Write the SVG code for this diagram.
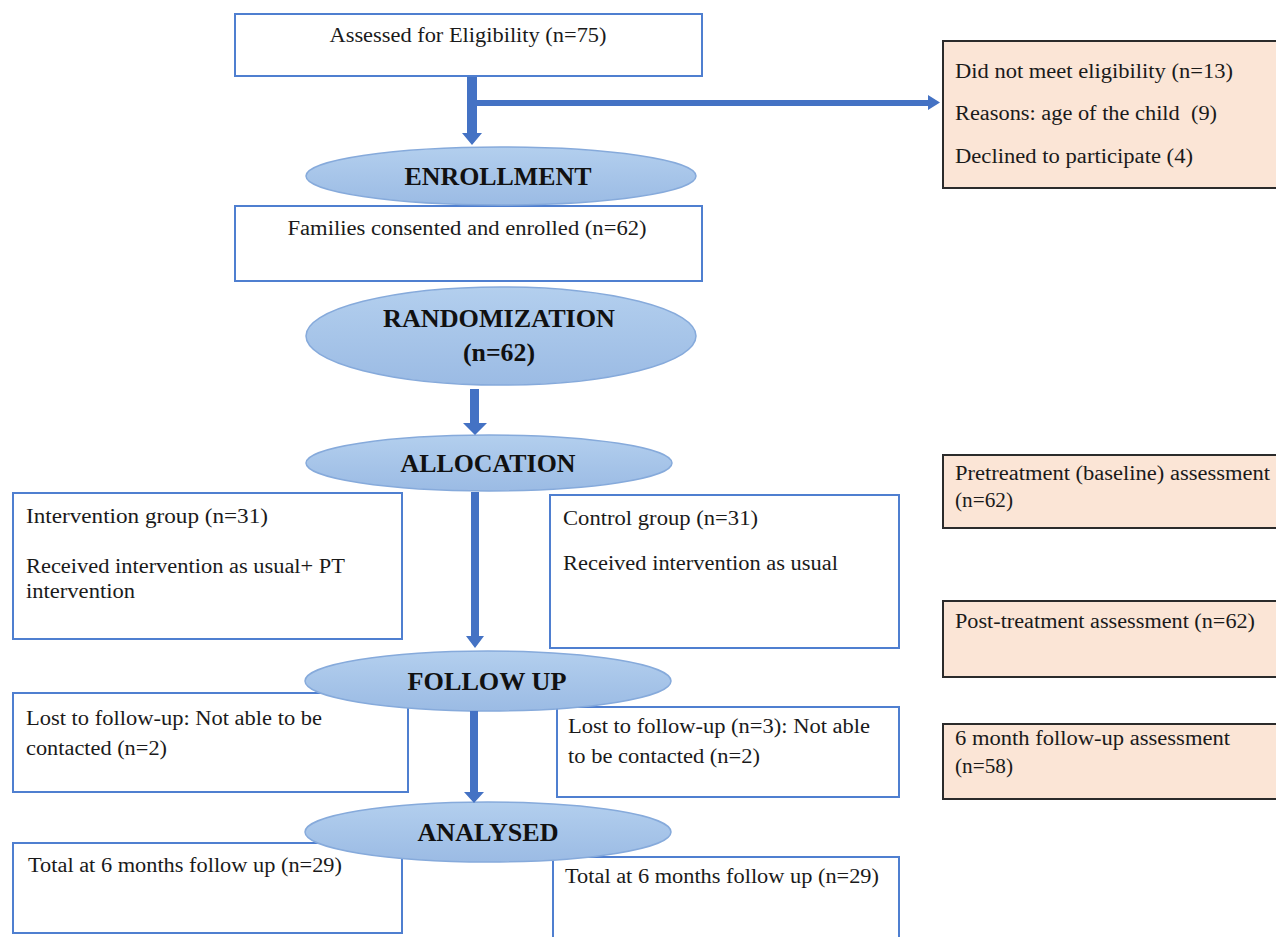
<svg xmlns="http://www.w3.org/2000/svg" width="1276" height="937" viewBox="0 0 1276 937">
<defs>
<linearGradient id="eg" x1="0" y1="0" x2="0" y2="1">
<stop offset="0" stop-color="#b3cfee"/>
<stop offset="1" stop-color="#9bbbe4"/>
</linearGradient>
<style>
.box{fill:#ffffff;stroke:#4f7fd0;stroke-width:2}
.pbox{fill:#fbe5d6;stroke:#2b2b2b;stroke-width:2}
.ell{fill:url(#eg);stroke:#86aadb;stroke-width:1.5}
.t{font-family:"Liberation Serif","Times New Roman",serif;font-size:20px;fill:#1a1a1a}
.h{font-family:"Liberation Serif","Times New Roman",serif;font-size:26px;font-weight:bold;fill:#111;text-anchor:middle}
.arr{fill:#4472c4}
</style>
</defs>
<rect width="1276" height="937" fill="#ffffff"/>

<g id="assessed">
<rect class="box" x="235" y="14" width="467" height="62"/>
<text class="t" x="468" y="42" text-anchor="middle" textLength="277" lengthAdjust="spacingAndGlyphs">Assessed for Eligibility (n=75)</text>
</g>

<g id="excluded">
<rect class="pbox" x="943" y="41" width="345" height="147"/>
<text class="t" x="955" y="78" textLength="278" lengthAdjust="spacingAndGlyphs">Did not meet eligibility (n=13)</text>
<text class="t" x="955" y="120" textLength="262" lengthAdjust="spacingAndGlyphs" xml:space="preserve">Reasons: age of the child  (9)</text>
<text class="t" x="955" y="163" textLength="238" lengthAdjust="spacingAndGlyphs">Declined to participate (4)</text>
</g>

<g id="families">
<rect class="box" x="235" y="206" width="467" height="75"/>
<text class="t" x="467" y="235" text-anchor="middle" textLength="359" lengthAdjust="spacingAndGlyphs">Families consented and enrolled (n=62)</text>
</g>

<g id="intervention">
<rect class="box" x="13" y="493" width="389" height="146"/>
<text class="t" x="26" y="523" textLength="242" lengthAdjust="spacingAndGlyphs">Intervention group (n=31)</text>
<text class="t" x="26" y="573" textLength="319" lengthAdjust="spacingAndGlyphs">Received intervention as usual+ PT</text>
<text class="t" x="26" y="598" textLength="109" lengthAdjust="spacingAndGlyphs">intervention</text>
</g>

<g id="control">
<rect class="box" x="550" y="495" width="349" height="153"/>
<text class="t" x="563" y="525" textLength="195" lengthAdjust="spacingAndGlyphs">Control group (n=31)</text>
<text class="t" x="563" y="570" textLength="275" lengthAdjust="spacingAndGlyphs">Received intervention as usual</text>
</g>

<g id="pretreatment">
<rect class="pbox" x="943" y="455" width="345" height="73"/>
<text class="t" x="955" y="480" textLength="315" lengthAdjust="spacingAndGlyphs">Pretreatment (baseline) assessment</text>
<text class="t" x="955" y="507" textLength="58" lengthAdjust="spacingAndGlyphs">(n=62)</text>
</g>

<g id="posttreatment">
<rect class="pbox" x="943" y="601" width="345" height="76"/>
<text class="t" x="955" y="628" textLength="300" lengthAdjust="spacingAndGlyphs">Post-treatment assessment (n=62)</text>
</g>

<g id="sixmonth">
<rect class="pbox" x="943" y="724" width="345" height="75"/>
<text class="t" x="955" y="745" textLength="275" lengthAdjust="spacingAndGlyphs">6 month follow-up assessment</text>
<text class="t" x="955" y="773" textLength="58" lengthAdjust="spacingAndGlyphs">(n=58)</text>
</g>

<g id="lost-left">
<rect class="box" x="13" y="693" width="395" height="99"/>
<text class="t" x="26" y="725" textLength="296" lengthAdjust="spacingAndGlyphs">Lost to follow-up: Not able to be</text>
<text class="t" x="26" y="755" textLength="141" lengthAdjust="spacingAndGlyphs">contacted (n=2)</text>
</g>

<g id="lost-right">
<rect class="box" x="557" y="707" width="342" height="90"/>
<text class="t" x="568" y="733" textLength="302" lengthAdjust="spacingAndGlyphs">Lost to follow-up (n=3): Not able</text>
<text class="t" x="568" y="763" textLength="192" lengthAdjust="spacingAndGlyphs">to be contacted (n=2)</text>
</g>

<g id="total-left">
<rect class="box" x="13" y="843" width="389" height="90"/>
<text class="t" x="28" y="872" textLength="314" lengthAdjust="spacingAndGlyphs">Total at 6 months follow up (n=29)</text>
</g>

<g id="total-right">
<rect class="box" x="553" y="857" width="346" height="90"/>
<text class="t" x="565" y="883" textLength="314" lengthAdjust="spacingAndGlyphs">Total at 6 months follow up (n=29)</text>
</g>

<g id="enrollment">
<ellipse class="ell" cx="501" cy="176" rx="195" ry="29"/>
<text class="h" x="498" y="185" textLength="187" lengthAdjust="spacingAndGlyphs">ENROLLMENT</text>
</g>

<g id="randomization">
<ellipse class="ell" cx="501" cy="336" rx="195" ry="49"/>
<text class="h" x="499" y="327" textLength="232" lengthAdjust="spacingAndGlyphs">RANDOMIZATION</text>
<text class="h" x="499" y="361" textLength="72" lengthAdjust="spacingAndGlyphs">(n=62)</text>
</g>

<g id="allocation">
<ellipse class="ell" cx="489" cy="463" rx="183" ry="28"/>
<text class="h" x="488" y="472" textLength="175" lengthAdjust="spacingAndGlyphs">ALLOCATION</text>
</g>

<g id="followup">
<ellipse class="ell" cx="488" cy="681" rx="183" ry="30"/>
<text class="h" x="487" y="690" textLength="159" lengthAdjust="spacingAndGlyphs">FOLLOW UP</text>
</g>

<g id="analysed">
<ellipse class="ell" cx="488" cy="832" rx="183" ry="30"/>
<text class="h" x="488" y="841" textLength="141" lengthAdjust="spacingAndGlyphs">ANALYSED</text>
</g>

<g id="connectors">
<path class="arr" d="M467,77 H477 V133 H482 L472,145 L462,133 H467 Z"/>
<path class="arr" d="M477,100 H928 V95 L940,102.5 L928,110 V106 H477 Z"/>
<path class="arr" d="M470,389 H479 V423 H487 L475,435 L463,423 H470 Z"/>
<path class="arr" d="M471,492 H479 V636 H484 L475,648 L466,636 H471 Z"/>
<path class="arr" d="M470,711 H478 V792 H484 L474,803 L464,792 H470 Z"/>
</g>
</svg>
